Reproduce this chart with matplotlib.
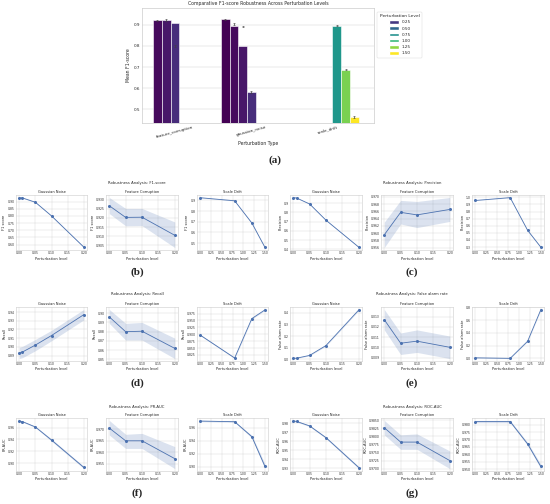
import numpy as np
import matplotlib
matplotlib.use("Agg")
import matplotlib.pyplot as plt
import seaborn as sns
from matplotlib.patches import Patch
from matplotlib.colors import Normalize

sns.set_theme(style="whitegrid")
plt.rcParams['font.family'] = ['DejaVu Sans']
plt.rcParams['axes.linewidth'] = 0.5
plt.rcParams['grid.linewidth'] = 0.3
plt.rcParams['xtick.major.size'] = 0
plt.rcParams['ytick.major.size'] = 0

# ---- panel (a): bar chart data ----
perturb_types = ["feature_corruption", "gaussian_noise", "scale_drift"]
hue_levels = [0.01, 0.05, 0.1, 0.2, 0.8, 1.2, 1.5]
legend_levels = [0.25, 0.50, 0.75, 1.00, 1.25, 1.50]

fc_levels = [0.05, 0.1, 0.2]
fc_f1 = [0.921, 0.921, 0.911]
fc_err_y = [0.921, 0.923, 0.800]

gn_levels = [0.01, 0.05, 0.1, 0.2]
gn_f1 = [0.926, 0.895, 0.800, 0.583]
gn_err_y = [0.926, 0.905, 0.893, 0.583]

sd_levels = [0.8, 1.2, 1.5]
sd_f1 = [0.897, 0.688, 0.462]
sd_err_y = [0.897, 0.688, 0.462]

bar_err = 0.004

# ---- line panels data ----
gn_x = [0.0, 0.01, 0.05, 0.1, 0.2]
fc_x = [0.0, 0.05, 0.1, 0.2]
sd_x = [0.0, 0.8, 1.2, 1.5]

f1_gn = [0.926, 0.925, 0.895, 0.800, 0.583]
f1_gn_ci = [0.002, 0.002, 0.002, 0.003, 0.003]
f1_fc = [0.9267, 0.9203, 0.9204, 0.9105]
f1_fc_lo = [0.9224, 0.9157, 0.9158, 0.9038]
f1_fc_hi = [0.9312, 0.9252, 0.9252, 0.9178]
f1_sd = [0.926, 0.897, 0.688, 0.462]
f1_sd_ci = [0.002, 0.002, 0.004, 0.004]

prec_gn = [0.958, 0.955, 0.890, 0.715, 0.425]
prec_gn_ci = [0.002, 0.002, 0.003, 0.004, 0.004]
prec_fc = [0.9595, 0.9657, 0.9650, 0.9665]
prec_fc_lo = [0.9560, 0.9625, 0.9615, 0.9632]
prec_fc_hi = [0.9630, 0.9690, 0.9687, 0.9698]
prec_sd = [0.955, 0.995, 0.535, 0.300]
prec_sd_ci = [0.002, 0.002, 0.006, 0.006]

rec_gn = [0.893, 0.894, 0.902, 0.913, 0.937]
rec_gn_ci = [0.0065, 0.0065, 0.0065, 0.006, 0.006]
rec_fc = [0.896, 0.880, 0.8805, 0.862]
rec_fc_lo = [0.889, 0.871, 0.871, 0.851]
rec_fc_hi = [0.904, 0.889, 0.890, 0.873]
rec_sd = [0.897, 0.814, 0.957, 0.988]
rec_sd_ci = [0.002, 0.002, 0.002, 0.002]

far_gn = [0.010, 0.011, 0.035, 0.120, 0.425]
far_gn_ci = [0.002, 0.002, 0.003, 0.004, 0.005]
far_fc = [0.0127, 0.0104, 0.0106, 0.0100]
far_fc_lo = [0.0117, 0.0093, 0.0095, 0.0089]
far_fc_hi = [0.0137, 0.0114, 0.0117, 0.0111]
far_sd = [0.010, 0.002, 0.270, 0.760]
far_sd_ci = [0.003, 0.003, 0.006, 0.008]

pr_gn = [0.971, 0.970, 0.961, 0.939, 0.893]
pr_gn_ci = [0.001, 0.001, 0.001, 0.002, 0.002]
pr_fc = [0.9705, 0.9650, 0.9650, 0.9573]
pr_fc_lo = [0.9675, 0.9617, 0.9617, 0.9530]
pr_fc_hi = [0.9738, 0.9678, 0.9682, 0.9625]
pr_sd = [0.970, 0.969, 0.946, 0.901]
pr_sd_ci = [0.001, 0.001, 0.002, 0.004]

roc_gn = [0.9825, 0.982, 0.977, 0.964, 0.931]
roc_gn_ci = [0.0006, 0.0006, 0.0008, 0.001, 0.0012]
roc_fc = [0.98275, 0.97825, 0.97825, 0.9725]
roc_fc_lo = [0.9805, 0.9760, 0.9760, 0.9700]
roc_fc_hi = [0.9850, 0.9805, 0.9808, 0.9755]
roc_sd = [0.982, 0.982, 0.967, 0.952]
roc_sd_ci = [0.0008, 0.0008, 0.001, 0.0015]

W, H = 550, 504
fig = plt.figure(figsize=(W / 100, H / 100), dpi=100)


def px_axes(l, t, r, b):
    return fig.add_axes([l / W, 1 - b / H, (r - l) / W, (b - t) / H])


def px_text(x, y, s, **kw):
    fig.text(x / W, 1 - y / H, s, ha='center', va='center', **kw)


# ---------------- panel (a) ----------------
ax = px_axes(142, 8, 374, 123)
cmap = plt.get_cmap('viridis')
norm = Normalize(min(hue_levels), max(hue_levels))
slot = 0.8 / len(hue_levels)
groups = [(fc_levels, fc_f1, fc_err_y), (gn_levels, gn_f1, gn_err_y), (sd_levels, sd_f1, sd_err_y)]
for ci, (levels, vals, erry) in enumerate(groups):
    for lv, v, ey in zip(levels, vals, erry):
        k = hue_levels.index(lv)
        xpos = ci - 0.4 + slot * (k + 0.5)
        ax.bar(xpos, v, width=slot, color=cmap(norm(lv)), edgecolor='white', linewidth=0.4)
        ax.errorbar(xpos, ey, yerr=bar_err, color='0.25', lw=0.5, capsize=0.8, capthick=0.4)
ax.set_xlim(-0.43, 2.6)
ax.set_ylim(0.435, 0.98)
ax.set_xticks(range(len(perturb_types)))
ax.set_xticklabels(perturb_types, rotation=15, fontsize=3)
ax.tick_params(axis='y', labelsize=3, pad=1.5, length=0)
ax.tick_params(axis='x', pad=1.5, length=0)
ax.grid(axis='x', visible=False)
ax.set_title("Comparative F1-score Robustness Across Perturbation Levels", fontsize=3.3, pad=2)
ax.set_xlabel("Perturbation Type", fontsize=3.3, labelpad=1.5)
ax.set_ylabel("Mean F1-score", fontsize=3.3, labelpad=1.5)
handles = [Patch(facecolor=cmap(norm(lv)), label=f"{lv:.2f}") for lv in legend_levels]
leg = ax.legend(handles=handles, title="Perturbation Level", loc='upper left',
                bbox_to_anchor=(1.005, 0.985), fontsize=3, title_fontsize=3.2,
                handlelength=2.4, handleheight=1.0, labelspacing=0.45, borderpad=0.6,
                frameon=True)
leg.get_frame().set_linewidth(0.3)

# ---------------- line panels ----------------
rows = [(195, 250), (307, 361), (418, 471)]
cols_left = [(16, 87), (106, 178), (197, 268)]
cols_right = [(290, 362), (381, 453), (472, 544)]
line_color = '#4c72b0'

panels = [
    ("F1-score", "F1 score", (f1_gn, f1_gn_ci), (f1_fc, f1_fc_lo, f1_fc_hi), (f1_sd, f1_sd_ci)),
    ("Precision", "Precision", (prec_gn, prec_gn_ci), (prec_fc, prec_fc_lo, prec_fc_hi), (prec_sd, prec_sd_ci)),
    ("Recall", "Recall", (rec_gn, rec_gn_ci), (rec_fc, rec_fc_lo, rec_fc_hi), (rec_sd, rec_sd_ci)),
    ("False alarm rate", "False alarm rate", (far_gn, far_gn_ci), (far_fc, far_fc_lo, far_fc_hi), (far_sd, far_sd_ci)),
    ("PR-AUC", "PR-AUC", (pr_gn, pr_gn_ci), (pr_fc, pr_fc_lo, pr_fc_hi), (pr_sd, pr_sd_ci)),
    ("ROC-AUC", "ROC-AUC", (roc_gn, roc_gn_ci), (roc_fc, roc_fc_lo, roc_fc_hi), (roc_sd, roc_sd_ci)),
]
labels = ["(b)", "(c)", "(d)", "(e)", "(f)", "(g)"]
sup_y = [183, 294, 407]
lab_y = [272, 383, 493]

for i, (name, ylab, gn, fc, sd) in enumerate(panels):
    r = i // 2
    cols = cols_left if i % 2 == 0 else cols_right
    cx = 137 if i % 2 == 0 else 412
    top, bot = rows[r]
    series = [
        ("Gaussian Noise", gn_x, gn[0], np.array(gn[0]) - gn[1], np.array(gn[0]) + gn[1]),
        ("Feature Corruption", fc_x, fc[0], fc[1], fc[2]),
        ("Scale Drift", sd_x, sd[0], np.array(sd[0]) - sd[1], np.array(sd[0]) + sd[1]),
    ]
    for (l, rr), (title, xs, ys, lo, hi) in zip(cols, series):
        a = px_axes(l, top, rr, bot)
        a.fill_between(xs, lo, hi, color=line_color, alpha=0.2, linewidth=0)
        a.plot(xs, ys, color=line_color, lw=0.6, marker='o', markersize=1.2)
        if title == "Scale Drift":
            a.set_xticks([0, 0.25, 0.5, 0.75, 1.0, 1.25, 1.5])
        else:
            a.set_xticks([0, 0.05, 0.1, 0.15, 0.2])
        a.xaxis.set_major_formatter(plt.FormatStrFormatter('%.2f'))
        a.tick_params(labelsize=2.2, pad=1, length=0)
        a.set_title(title, fontsize=2.6, pad=1.5)
        a.set_xlabel("Perturbation level", fontsize=2.6, labelpad=0.8)
        a.set_ylabel(ylab, fontsize=2.6, labelpad=0.8)
        a.grid(linewidth=0.25)
        for s in a.spines.values():
            s.set_linewidth(0.4)
    px_text(cx, sup_y[r], f"Robustness Analysis: {name}", fontsize=2.7)
    px_text(cx, lab_y[r], labels[i], fontsize=8, fontweight='bold', family='Liberation Serif')

px_text(275, 160, "(a)", fontsize=8, fontweight='bold', family='Liberation Serif')

fig.savefig("out.png", dpi=100, facecolor='white')
